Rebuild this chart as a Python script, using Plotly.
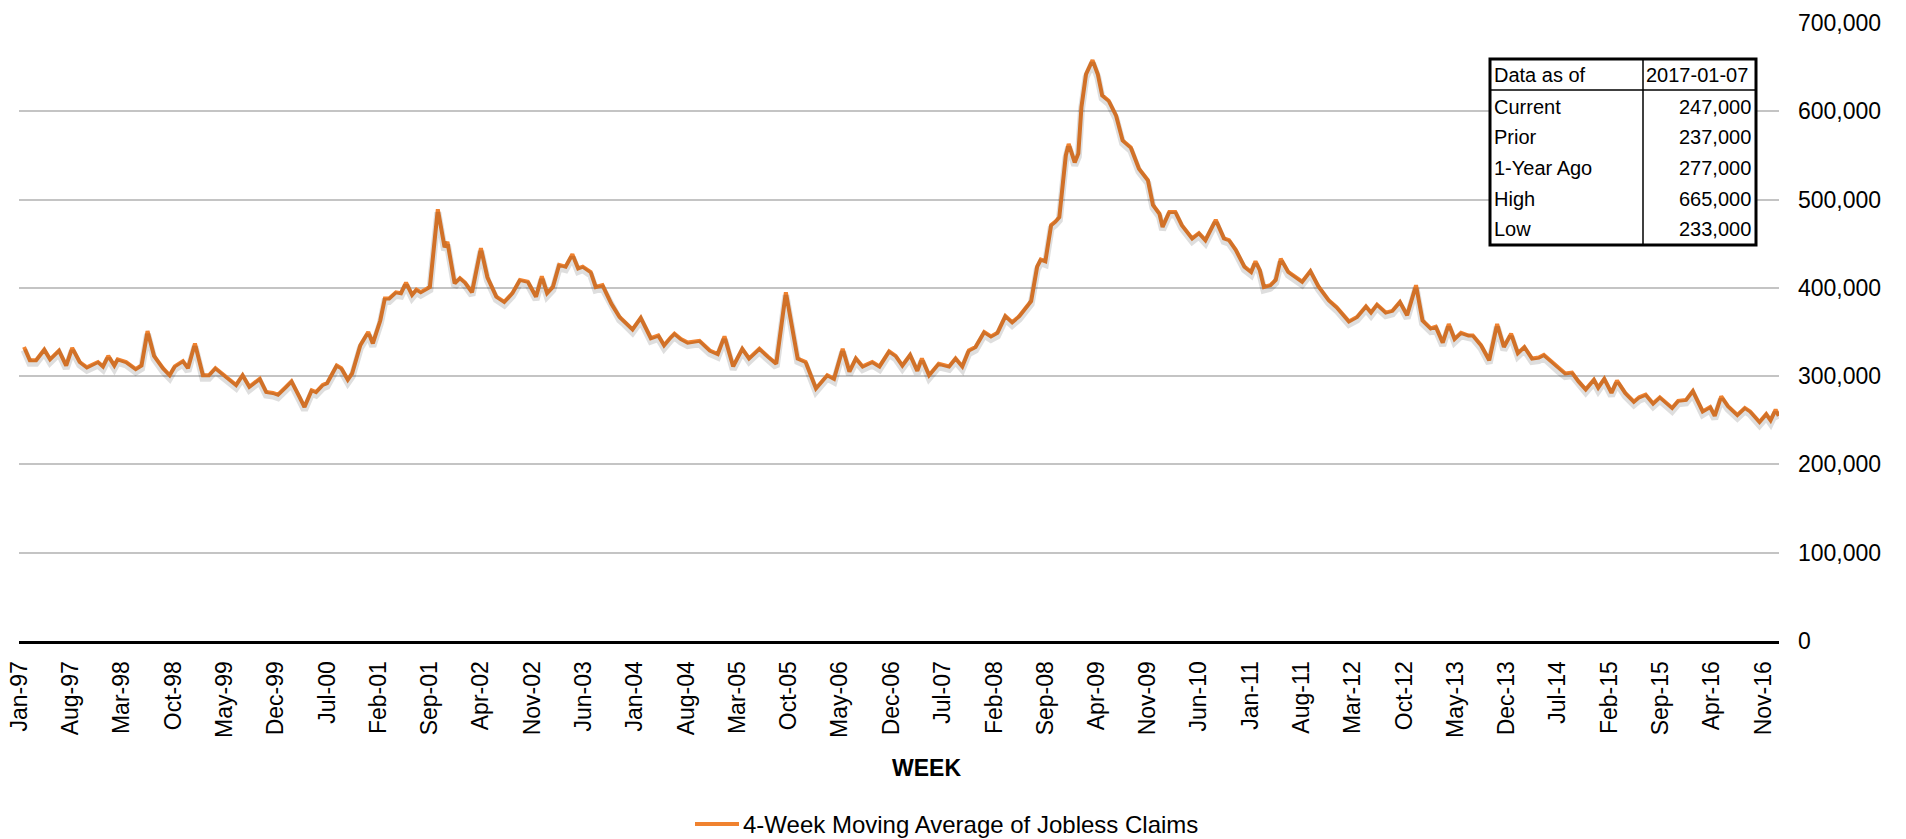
import plotly.graph_objects as go
import pandas as pd

# Week-ending dates and 4-week moving average of initial jobless claims (thousands)
weeks = [
    "1997-01-22", "1997-02-15", "1997-03-13", "1997-04-16", "1997-05-10", "1997-06-16",
    "1997-07-16", "1997-08-10", "1997-09-10", "1997-10-10", "1997-11-25", "1997-12-16",
    "1998-01-07", "1998-02-01", "1998-02-15", "1998-03-22", "1998-05-01", "1998-05-25",
    "1998-06-19", "1998-07-16", "1998-08-22", "1998-09-19", "1998-10-10", "1998-11-13",
    "1998-12-04", "1999-01-02", "1999-02-04", "1999-03-01", "1999-03-28", "1999-05-10",
    "1999-06-22", "1999-07-19", "1999-08-16", "1999-09-28", "1999-10-25", "1999-11-22",
    "1999-12-13", "2000-01-16", "2000-02-07", "2000-03-10", "2000-04-01", "2000-05-01",
    "2000-05-19", "2000-06-16", "2000-07-04", "2000-08-13", "2000-09-01", "2000-09-28",
    "2000-10-16", "2000-11-19", "2000-12-22", "2001-01-10", "2001-02-10", "2001-03-01",
    "2001-03-19", "2001-04-16", "2001-05-07", "2001-05-28", "2001-06-22", "2001-07-10",
    "2001-07-28", "2001-09-04", "2001-10-07", "2001-11-04", "2001-11-16", "2001-12-16",
    "2002-01-07", "2002-01-28", "2002-02-26", "2002-04-04", "2002-05-01", "2002-06-07",
    "2002-07-10", "2002-08-13", "2002-09-13", "2002-10-16", "2002-11-19", "2002-12-13",
    "2003-01-04", "2003-01-28", "2003-02-23", "2003-03-22", "2003-04-19", "2003-05-13",
    "2003-06-01", "2003-07-04", "2003-07-25", "2003-08-22", "2003-09-28", "2003-11-01",
    "2003-11-22", "2003-12-25", "2004-01-28", "2004-03-10", "2004-04-10", "2004-05-04",
    "2004-06-01", "2004-06-16", "2004-07-13", "2004-08-10", "2004-09-28", "2004-11-10",
    "2004-12-13", "2005-01-10", "2005-02-15", "2005-03-25", "2005-04-22", "2005-06-04",
    "2005-07-10", "2005-08-13", "2005-09-22", "2005-11-10", "2005-12-13", "2006-01-25",
    "2006-03-13", "2006-04-10", "2006-05-16", "2006-06-13", "2006-07-10", "2006-08-07",
    "2006-09-16", "2006-10-16", "2006-11-25", "2006-12-22", "2007-01-19", "2007-02-20",
    "2007-03-22", "2007-04-10", "2007-05-10", "2007-06-19", "2007-08-01", "2007-08-28",
    "2007-09-25", "2007-10-22", "2007-11-19", "2007-12-25", "2008-01-22", "2008-02-18",
    "2008-03-22", "2008-04-19", "2008-05-19", "2008-06-16", "2008-07-07", "2008-08-01",
    "2008-08-16", "2008-09-04", "2008-09-28", "2008-10-16", "2008-11-01", "2008-11-28",
    "2008-12-10", "2009-01-04", "2009-01-19", "2009-02-01", "2009-02-20", "2009-03-19",
    "2009-04-10", "2009-04-28", "2009-05-25", "2009-06-25", "2009-07-22", "2009-08-25",
    "2009-09-28", "2009-11-04", "2009-11-25", "2009-12-22", "2010-01-04", "2010-02-01",
    "2010-02-26", "2010-03-25", "2010-05-07", "2010-06-04", "2010-07-01", "2010-08-13",
    "2010-09-16", "2010-10-07", "2010-11-04", "2010-12-10", "2011-01-07", "2011-01-25",
    "2011-02-12", "2011-03-01", "2011-03-28", "2011-04-19", "2011-05-10", "2011-06-10",
    "2011-08-07", "2011-09-10", "2011-10-13", "2011-11-25", "2011-12-28", "2012-02-17",
    "2012-03-22", "2012-04-28", "2012-05-19", "2012-06-13", "2012-07-19", "2012-08-16",
    "2012-09-16", "2012-10-16", "2012-11-22", "2012-12-19", "2013-01-22", "2013-02-12",
    "2013-03-13", "2013-04-07", "2013-05-01", "2013-05-28", "2013-06-28", "2013-07-16",
    "2013-08-19", "2013-09-22", "2013-10-25", "2013-11-22", "2013-12-22", "2014-01-19",
    "2014-02-15", "2014-03-19", "2014-04-16", "2014-05-07", "2014-07-07", "2014-08-04",
    "2014-09-01", "2014-09-28", "2014-10-28", "2014-12-01", "2014-12-19", "2015-01-13",
    "2015-02-12", "2015-03-07", "2015-04-10", "2015-05-16", "2015-06-07", "2015-07-04",
    "2015-08-04", "2015-09-01", "2015-10-22", "2015-11-16", "2015-12-19", "2016-01-16",
    "2016-02-26", "2016-03-28", "2016-04-16", "2016-05-13", "2016-06-10", "2016-07-19",
    "2016-08-19", "2016-09-10", "2016-10-19", "2016-11-16", "2016-12-04", "2016-12-25",
    "2017-01-07",
]
claims_k = [
    333, 318, 318, 330, 319, 329,
    312, 332, 316, 310, 316, 311,
    323, 312, 319, 316, 308, 312,
    351, 323, 309, 301, 311, 317,
    309, 337, 301, 301, 309, 300,
    290, 301, 288, 297, 282, 281,
    279, 288, 294, 277, 265, 284,
    282, 290, 292, 312, 309, 296,
    303, 335, 350, 337, 363, 388,
    388, 395, 394, 406, 392, 398,
    395, 401, 489, 446, 452, 405,
    411, 406, 395, 445, 412, 390,
    384, 394, 409, 407, 390, 413,
    394, 401, 426, 424, 438, 422,
    424, 418, 401, 403, 382, 367,
    362, 353, 366, 343, 346, 335,
    344, 348, 342, 338, 340, 329,
    325, 345, 311, 331, 320, 331,
    322, 314, 395, 320, 316, 286,
    301, 297, 331, 305, 320, 311,
    316, 311, 328, 323, 312, 324,
    306, 320, 301, 314, 311, 320,
    311, 329, 333, 350, 345, 349,
    368, 361, 368, 377, 385, 424,
    432, 430, 471, 475, 480, 550,
    563, 542, 552, 605, 642, 658,
    642, 618, 612, 595, 567, 559,
    535, 522, 494, 484, 469, 486,
    486, 471, 456, 462, 454, 477,
    456, 454, 443, 424, 418, 430,
    420, 401, 403, 409, 433, 418,
    407, 419, 402, 386, 378, 362,
    367, 379, 372, 381, 372, 374,
    384, 369, 403, 363, 354, 356,
    338, 359, 342, 349, 346, 346,
    335, 318, 359, 333, 348, 326,
    333, 320, 321, 324, 309, 303,
    304, 294, 285, 296, 287, 297,
    281, 295, 281, 271, 276, 279,
    269, 276, 264, 272, 273, 283,
    260, 265, 255, 277, 266, 256,
    264, 260, 248, 257, 250, 262,
    255,
]
claims = [v * 1000 for v in claims_k]

tick_labels = [
    "Jan-97", "Aug-97", "Mar-98", "Oct-98", "May-99", "Dec-99", "Jul-00", "Feb-01",
    "Sep-01", "Apr-02", "Nov-02", "Jun-03", "Jan-04", "Aug-04", "Mar-05", "Oct-05",
    "May-06", "Dec-06", "Jul-07", "Feb-08", "Sep-08", "Apr-09", "Nov-09", "Jun-10",
    "Jan-11", "Aug-11", "Mar-12", "Oct-12", "May-13", "Dec-13", "Jul-14", "Feb-15",
    "Sep-15", "Apr-16", "Nov-16",
]
tick_dates = [pd.to_datetime(t, format="%b-%y") + pd.Timedelta(days=3) for t in tick_labels]

summary_header = ["Data as of", "2017-01-07"]
summary_labels = ["Current", "Prior", "1-Year Ago", "High", "Low"]
summary_values = ["247,000", "237,000", "277,000", "665,000", "233,000"]

series_name = "4-Week Moving Average of Jobless Claims"

# ---- layout geometry (pixels) ----
W, H = 1906, 839
ML, MR, MT, MB = 19, 127, 23, 198
PW, PH = W - ML - MR, H - MT - MB
Y_MAX = 700000

LINE_COLOR = "#F0822F"
FONT = "Liberation Sans, Arial, sans-serif"


def px(x):
    return (x - ML) / PW


def py(y):
    return (H - MB - y) / PH


fig = go.Figure()

# soft drop shadow: the same series drawn on an overlay axis nudged a few pixels down
shadow_shift = 3 * Y_MAX / PH
fig.add_trace(go.Scatter(
    x=weeks, y=claims, mode="lines", yaxis="y2", showlegend=False, hoverinfo="skip",
    line=dict(color="rgba(0,0,0,0.13)", width=7),
))
fig.add_trace(go.Scatter(
    x=weeks, y=claims, mode="lines", name=series_name, showlegend=False,
    line=dict(color=LINE_COLOR, width=4),
))

# summary table
tx0, tx1, tcol = 1490, 1756, 1643
ty0, ty1, thead = 59, 245, 90
shapes = [
    dict(type="rect", xref="paper", yref="paper", x0=px(tx0), x1=px(tx1), y0=py(ty1), y1=py(ty0),
         fillcolor="white", line=dict(color="black", width=3), layer="above"),
    dict(type="line", xref="paper", yref="paper", x0=px(tcol), x1=px(tcol), y0=py(ty1), y1=py(ty0),
         line=dict(color="black", width=1.5), layer="above"),
    dict(type="line", xref="paper", yref="paper", x0=px(tx0), x1=px(tx1), y0=py(thead), y1=py(thead),
         line=dict(color="black", width=1.5), layer="above"),
]

annotations = []
tfont = dict(family=FONT, size=20, color="black")
annotations.append(dict(text=summary_header[0], x=px(tx0 + 2), y=py(75), xref="paper", yref="paper",
                        xanchor="left", yanchor="middle", showarrow=False, font=tfont))
annotations.append(dict(text=summary_header[1], x=px(tcol + 1), y=py(75), xref="paper", yref="paper",
                        xanchor="left", yanchor="middle", showarrow=False, font=tfont))
row_y = [107, 137, 168, 199, 229]
for lab, val, ry in zip(summary_labels, summary_values, row_y):
    annotations.append(dict(text=lab, x=px(tx0 + 2), y=py(ry), xref="paper", yref="paper",
                            xanchor="left", yanchor="middle", showarrow=False, font=tfont))
    annotations.append(dict(text=val, x=px(tx1 - 3), y=py(ry), xref="paper", yref="paper",
                            xanchor="right", yanchor="middle", showarrow=False, font=tfont))

# x-axis title
annotations.append(dict(text="<b>WEEK</b>", x=px(927), y=py(768), xref="paper", yref="paper",
                        xanchor="center", yanchor="middle", showarrow=False,
                        font=dict(family=FONT, size=23, color="black")))

# legend: line sample plus series name
leg_x0, leg_x1, leg_y = 695, 739, 824
shapes.append(dict(type="line", xref="paper", yref="paper", x0=px(leg_x0), x1=px(leg_x1),
                   y0=py(leg_y), y1=py(leg_y), line=dict(color=LINE_COLOR, width=4)))
annotations.append(dict(text=series_name, x=px(leg_x1 + 2), y=py(leg_y), xref="paper", yref="paper",
                        xanchor="left", yanchor="middle", showarrow=False,
                        font=dict(family=FONT, size=24, color="black")))

fig.update_layout(
    width=W, height=H,
    margin=dict(l=ML, r=MR, t=MT, b=MB, pad=0, autoexpand=False),
    paper_bgcolor="white", plot_bgcolor="white",
    xaxis=dict(
        type="date", range=["1997-01-01", "2017-01-08"],
        tickmode="array", tickvals=tick_dates, ticktext=tick_labels, tickangle=-90,
        tickfont=dict(family=FONT, size=23, color="black"), ticks="", ticklabelstandoff=8,
        showgrid=False, zeroline=False, showline=True, linecolor="black", linewidth=3,
    ),
    yaxis=dict(
        range=[0, Y_MAX], side="right", tickmode="linear", tick0=0, dtick=100000,
        tickformat=",", tickfont=dict(family=FONT, size=23, color="black"),
        ticks="", ticklabelstandoff=18,
        showgrid=True, gridcolor="#c4c4c4", gridwidth=2, zeroline=False, showline=False,
    ),
    yaxis2=dict(range=[shadow_shift, Y_MAX + shadow_shift], overlaying="y", visible=False),
    shapes=shapes,
    annotations=annotations,
    showlegend=False,
)

fig.write_html("out.html")
